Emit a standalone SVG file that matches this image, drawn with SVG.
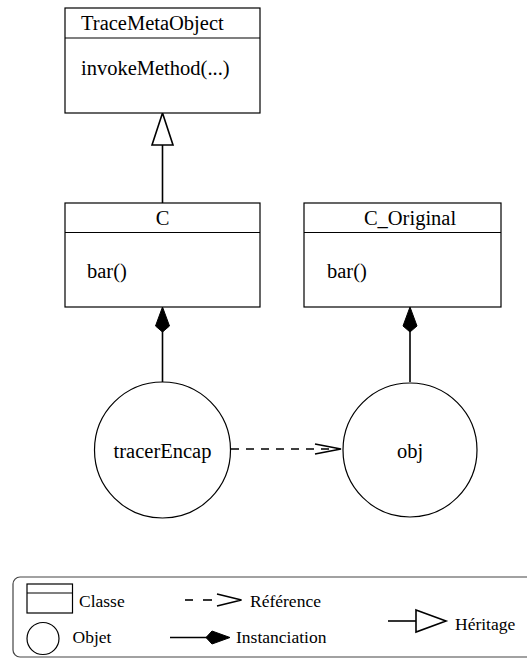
<svg xmlns="http://www.w3.org/2000/svg" width="527" height="658" viewBox="0 0 527 658">
<style>
.box{fill:#fff;stroke:#000;stroke-width:1.2}
.ln{fill:none;stroke:#000;stroke-width:1.6}
text{font-family:'Liberation Serif','DejaVu Serif',serif}
.t{font-size:20.5px;fill:#000}
.lt{font-size:17.5px;fill:#000}
.circ{fill:#fff;stroke:#000;stroke-width:1.2}
.dash{fill:none;stroke:#000;stroke-width:1.6;stroke-dasharray:8 7}
.dia{fill:#000;stroke:#000;stroke-width:1}
.tri{fill:#fff;stroke:#000;stroke-width:1.6}
</style>
<rect width="527" height="658" fill="#fff"/>
<g id="connectors">
  <line class="ln" x1="162.5" y1="145" x2="162.5" y2="203"/>
  <polygon class="tri" points="162.5,113 173,145 152,145"/>
  <line class="ln" x1="162.5" y1="331" x2="162.5" y2="382"/>
  <polygon class="dia" points="162.5,307 169.5,326 162.5,332 155.5,326"/>
  <line class="ln" x1="410" y1="331" x2="410" y2="382"/>
  <polygon class="dia" points="410,307 417,326 410,332 403,326"/>
  <line class="dash" x1="231" y1="449" x2="340" y2="449"/>
  <polyline class="ln" points="315,444 341,449 315,454"/>
</g>
<g id="TraceMetaObject">
  <rect class="box" x="65" y="8" width="195" height="105"/>
  <line class="box" x1="65" y1="38" x2="260" y2="38"/>
  <text class="t" x="81" y="30" font-family="Liberation Serif, serif">TraceMetaObject</text>
  <text class="t" x="81" y="75" font-family="Liberation Serif, serif">invokeMethod(...)</text>
</g>
<g id="C">
  <rect class="box" x="65" y="203" width="195" height="104"/>
  <line class="box" x1="65" y1="232.5" x2="260" y2="232.5"/>
  <text class="t" x="162.5" y="225" text-anchor="middle" font-family="Liberation Serif, serif">C</text>
  <text class="t" x="87" y="278" font-family="Liberation Serif, serif">bar()</text>
</g>
<g id="C_Original">
  <rect class="box" x="304" y="203" width="197" height="104"/>
  <line class="box" x1="304" y1="232.5" x2="501" y2="232.5"/>
  <text class="t" x="410" y="225" text-anchor="middle" font-family="Liberation Serif, serif">C_Original</text>
  <text class="t" x="327" y="278" font-family="Liberation Serif, serif">bar()</text>
</g>
<g id="tracerEncap">
  <circle class="circ" cx="162.5" cy="450" r="68"/>
  <text class="t" x="162.5" y="458" text-anchor="middle" font-family="Liberation Serif, serif">tracerEncap</text>
</g>
<g id="obj">
  <circle class="circ" cx="410" cy="450" r="67"/>
  <text class="t" x="410" y="458" text-anchor="middle" font-family="Liberation Serif, serif">obj</text>
</g>
<g id="legend">
  <rect x="13" y="577" width="530" height="80" rx="7" fill="none" stroke="#444" stroke-width="1.2"/>
  <rect class="box" x="27" y="584" width="45.5" height="29"/>
  <line class="box" x1="27" y1="593" x2="72.5" y2="593"/>
  <text class="lt" x="79" y="607" font-family="Liberation Serif, serif">Classe</text>
  <circle class="circ" cx="43" cy="638.5" r="16"/>
  <text class="lt" x="72.5" y="643" font-family="Liberation Serif, serif">Objet</text>
  <line class="ln" x1="185" y1="600" x2="193" y2="600"/>
  <line class="ln" x1="203" y1="600" x2="212" y2="600"/>
  <polyline class="ln" points="217,594 241.5,600 217,606"/>
  <text class="lt" x="250" y="607" font-family="Liberation Serif, serif">Référence</text>
  <line class="ln" x1="170" y1="637.5" x2="207" y2="637.5"/>
  <polygon class="dia" points="206,637.5 212,631 230,637.5 212,644"/>
  <text class="lt" x="236" y="643" font-family="Liberation Serif, serif">Instanciation</text>
  <line class="ln" x1="388" y1="621" x2="416" y2="621"/>
  <polygon class="tri" points="416,610 446,621 416,632"/>
  <text class="lt" x="455" y="630" font-family="Liberation Serif, serif">Héritage</text>
</g>
</svg>
